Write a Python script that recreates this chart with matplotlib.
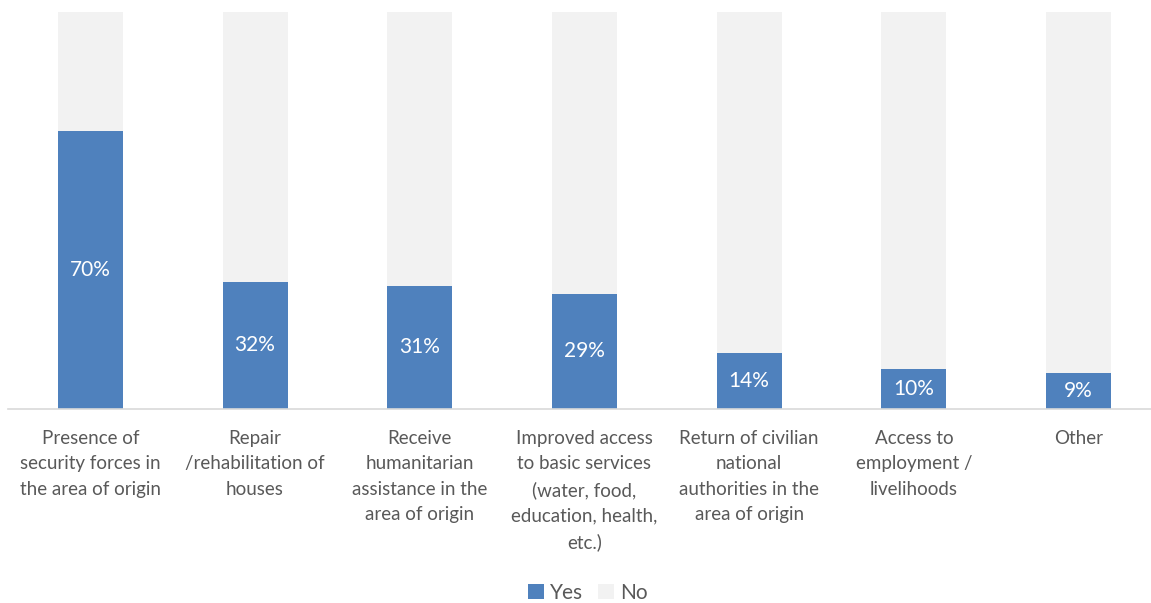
import matplotlib.pyplot as plt
import numpy as np

categories = [
    "Presence of\nsecurity forces in\nthe area of origin",
    "Repair\n/rehabilitation of\nhouses",
    "Receive\nhumanitarian\nassistance in the\narea of origin",
    "Improved access\nto basic services\n(water, food,\neducation, health,\netc.)",
    "Return of civilian\nnational\nauthorities in the\narea of origin",
    "Access to\nemployment /\nlivelihoods",
    "Other",
]
yes_pct = [70, 32, 31, 29, 14, 10, 9]
no_pct = [100 - v for v in yes_pct]

blue = "#4F81BD"
grey = "#F2F2F2"
text_col = "#595959"

plt.rcParams["font.family"] = ["Lato", "DejaVu Sans"]

fig = plt.figure(figsize=(11.51, 6.03), dpi=100)
ax = fig.add_axes([8 / 1151, 194 / 603, 1 - 8 / 1151, 397 / 603])

x = np.arange(len(categories))
w = 0.395
ax.bar(x, yes_pct, w, color=blue, label="Yes")
ax.bar(x, no_pct, w, bottom=yes_pct, color=grey, label="No")

for xi, v in zip(x, yes_pct):
    ax.text(xi, v / 2, f"{v}%", ha="center", va="center", color="white", fontsize=15)

ax.set_xlim(-0.5, -0.5 + (1151 - 8) / 164.7)
ax.set_ylim(0, 100)
ax.set_yticks([])
ax.set_xticks(x)
ax.set_xticklabels(categories, fontsize=13.5, color=text_col, linespacing=1.6)
ax.tick_params(axis="x", length=0, pad=15)
for s in ["top", "right", "left"]:
    ax.spines[s].set_visible(False)
ax.spines["bottom"].set_color("#D9D9D9")
ax.spines["bottom"].set_linewidth(1.2)

fig.legend(loc="center", bbox_to_anchor=(588 / 1151, 1 - 593 / 603), ncol=2,
           frameon=False, fontsize=15, handlelength=0.75, handleheight=0.75,
           handletextpad=0.3, columnspacing=0.7, labelcolor=text_col)

fig.savefig("out.png", dpi=100)
